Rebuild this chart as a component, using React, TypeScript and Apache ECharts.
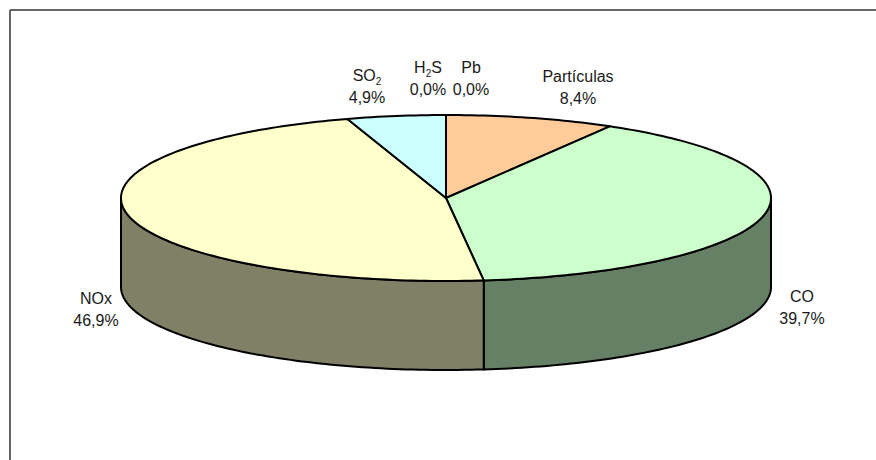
import React, { useEffect, useRef } from "react";
import * as echarts from "echarts";

const categories = ["Partículas", "CO", "NOx", "SO2", "H2S", "Pb"];
const shares = [8.4, 39.7, 46.9, 4.9, 0.0, 0.0];
const topColors = ["#FFCC99", "#CCFFCC", "#FFFFCC", "#CCFFFF", "#FFFFFF", "#FFFFFF"];
const wallColors = ["#806650", "#668066", "#808066", "#668080", "#808080", "#808080"];

const CX = 446;
const CY = 198;
const RX = 325;
const RY = 83;
const DEPTH = 89;
const total = shares.reduce((s, v) => s + v, 0);

const labelSpots: Record<string, [number, number]> = {
  "Partículas": [578, 87],
  CO: [802, 307],
  NOx: [96, 309],
  SO2: [367, 86],
  H2S: [428, 78],
  Pb: [471, 78],
};

const richName = (n: string) => n.replace(/2/, "{sub|2}");
const pct = (v: number) => v.toFixed(1).replace(".", ",") + "%";

function startAngle(i: number) {
  let s = 0;
  for (let k = 0; k < i; k++) s += shares[k];
  return (s / total) * 2 * Math.PI;
}

function arc(a0: number, a1: number, dy: number) {
  const pts: number[][] = [];
  const n = Math.max(2, Math.ceil(Math.abs(a1 - a0) / 0.02));
  for (let k = 0; k <= n; k++) {
    const a = a0 + ((a1 - a0) * k) / n;
    pts.push([CX + RX * Math.sin(a), CY - RY * Math.cos(a) + dy]);
  }
  return pts;
}

const stroke = { stroke: "#000", lineWidth: 2, lineJoin: "round" as const };

function renderWall(params: any, api: any) {
  const i = params.dataIndex;
  const share = api.value(0);
  const a0 = Math.max(startAngle(i), Math.PI / 2);
  const a1 = Math.min(startAngle(i) + (share / total) * 2 * Math.PI, (3 * Math.PI) / 2);
  if (a1 <= a0) return { type: "group", children: [] };
  const points = [...arc(a0, a1, 0), ...arc(a1, a0, DEPTH)];
  return { type: "polygon", shape: { points }, style: { fill: wallColors[i], ...stroke } };
}

function renderTop(params: any, api: any) {
  const i = params.dataIndex;
  const share = api.value(0);
  const a0 = startAngle(i);
  const a1 = a0 + (share / total) * 2 * Math.PI;
  const children: any[] = [];
  if (share > 0) {
    children.push({
      type: "polygon",
      shape: { points: [[CX, CY], ...arc(a0, a1, 0)] },
      style: { fill: topColors[i], ...stroke },
    });
  }
  const [x, y] = labelSpots[categories[i]];
  children.push({
    type: "text",
    x,
    y,
    z2: 10,
    style: {
      text: `${richName(categories[i])}\n${pct(share)}`,
      x: 0,
      y: 0,
      align: "center",
      verticalAlign: "middle",
      fontFamily: "Liberation Sans",
      fontSize: 16,
      lineHeight: 22,
      fill: "#1a1a1a",
      rich: {
        sub: { fontSize: 10, fill: "#1a1a1a", verticalAlign: "bottom", lineHeight: 16, padding: [3, 0, 0, 0], fontFamily: "Liberation Sans" },
      },
    },
  });
  return { type: "group", children };
}

export default function App() {
  const ref = useRef<HTMLDivElement>(null);
  useEffect(() => {
    const chart = echarts.init(ref.current!, undefined, { renderer: "svg" });
    const data = shares.map((v, i) => ({ name: categories[i], value: [v] }));
    chart.setOption({
      animation: false,
      backgroundColor: "#fff",
      graphic: [
        { type: "line", shape: { x1: 10, y1: 10, x2: 876, y2: 10 }, style: { stroke: "#333", lineWidth: 1.5 } },
        { type: "line", shape: { x1: 10, y1: 10, x2: 10, y2: 460 }, style: { stroke: "#333", lineWidth: 1.5 } },
      ],
      series: [
        { type: "custom", coordinateSystem: "none", renderItem: renderWall, data, z: 1 },
        { type: "custom", coordinateSystem: "none", renderItem: renderTop, data, z: 2 },
      ],
    });
    return () => chart.dispose();
  }, []);
  return <div ref={ref} style={{ position: "absolute", left: 0, top: 0, width: 876, height: 460 }} />;
}
